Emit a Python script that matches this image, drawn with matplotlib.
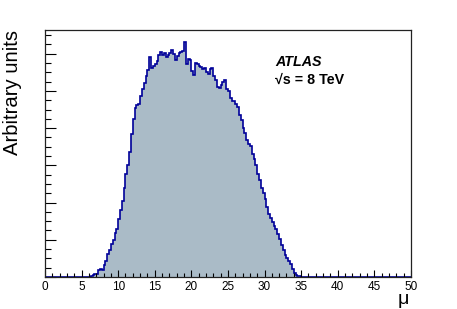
import numpy as np
import matplotlib
matplotlib.use("Agg")
import matplotlib.pyplot as plt
from matplotlib.ticker import MultipleLocator, NullFormatter

plt.rcParams['font.family'] = ['Liberation Sans', 'DejaVu Sans']

# pile-up distribution, bins of 0.25 from mu = 6 to 36
bin_width = 0.25
mu_start = 6.0
mu_values = [
    0.00, 0.02, 0.06, 0.08, 0.09, 0.18, 0.21, 0.19, 0.32, 0.44,
    0.62, 0.73, 0.90, 1.00, 1.18, 1.30, 1.55, 1.80, 2.05, 2.38,
    2.78, 3.02, 3.35, 3.85, 4.25, 4.55, 4.62, 4.64, 4.86, 5.05,
    5.22, 5.40, 5.56, 5.92, 5.62, 5.66, 5.72, 5.80, 5.97, 6.06,
    5.98, 6.02, 5.92, 5.97, 6.03, 6.10, 6.00, 5.83, 5.95, 6.01,
    6.05, 6.08, 6.33, 5.72, 5.86, 5.82, 5.55, 5.43, 5.75, 5.72,
    5.68, 5.64, 5.60, 5.62, 5.52, 5.45, 5.60, 5.62, 5.40, 5.30,
    5.10, 5.08, 5.16, 5.25, 5.30, 5.06, 5.00, 4.82, 4.74, 4.72,
    4.66, 4.58, 4.35, 4.22, 4.00, 3.87, 3.68, 3.58, 3.52, 3.30,
    3.18, 3.02, 2.78, 2.62, 2.40, 2.25, 2.10, 1.88, 1.68, 1.58,
    1.47, 1.38, 1.28, 1.15, 1.02, 0.86, 0.72, 0.60, 0.52, 0.44,
    0.36, 0.22, 0.10, 0.05, 0.03, 0.02, 0.01, 0.01, 0.01, 0.00,
]
x_ticks = [0, 5, 10, 15, 20, 25, 30, 35, 40, 45, 50]

# pad with empty bins so the histogram covers the whole 0-50 range
n_low = int(mu_start / bin_width)
vals = np.concatenate([np.zeros(n_low), mu_values])
n_high = int(50 / bin_width) - len(vals)
vals = np.concatenate([vals, np.zeros(n_high)])
edges = np.arange(len(vals) + 1) * bin_width

fig = plt.figure(figsize=(4.57, 3.09), dpi=100)
ax = fig.add_axes([0.0985, 0.1036, 0.8005, 0.7994])

ax.stairs(vals, edges, fill=True, color='#aabbc7', linewidth=0)
ax.stairs(vals, edges, color='#000099', linewidth=1.2)

ax.set_xlim(0, 50)
ax.set_ylim(0, 6.64)
ax.set_xticks(x_ticks)
ax.xaxis.set_minor_locator(MultipleLocator(1))
ax.yaxis.set_major_locator(MultipleLocator(1))
ax.yaxis.set_minor_locator(MultipleLocator(0.25))
ax.yaxis.set_major_formatter(NullFormatter())
ax.tick_params(axis='x', which='major', direction='in', length=5, width=0.8, labelsize=8.5, pad=3)
ax.tick_params(axis='x', which='minor', direction='in', length=2.7, width=0.8)
ax.tick_params(axis='y', which='major', direction='in', length=8, width=0.8)
ax.tick_params(axis='y', which='minor', direction='in', length=4, width=0.8)
for s in ax.spines.values():
    s.set_linewidth(0.9)
    s.set_color('#222222')

ax.set_ylabel('Arbitrary units', fontsize=14.6, loc='top')
ax.yaxis.set_label_coords(-0.062, 1.0)
ax.set_xlabel('μ', fontsize=14, loc='right', va='center')
ax.xaxis.set_label_coords(0.995, -0.093)

ax.text(0.63, 0.87, 'ATLAS', transform=ax.transAxes, fontsize=10.3,
        fontweight='bold', fontstyle='italic', va='center')
ax.text(0.63, 0.797, '√s = 8 TeV', transform=ax.transAxes, fontsize=10.3,
        fontweight='bold', va='center')

fig.savefig('out.png', dpi=100)
